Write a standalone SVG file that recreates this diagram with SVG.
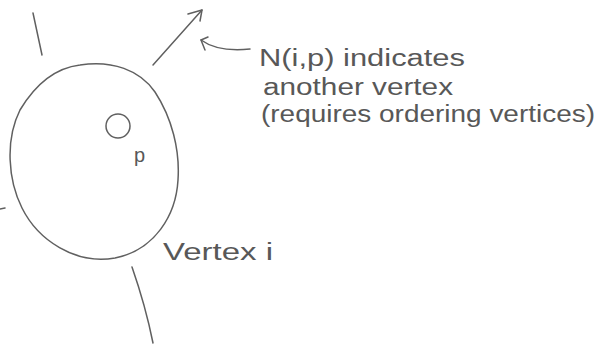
<svg xmlns="http://www.w3.org/2000/svg" width="600" height="345" viewBox="0 0 600 345">
<style>
.s{fill:none;stroke:#606060;stroke-width:1.5;stroke-linecap:round;stroke-linejoin:round}
.t{font-family:"Liberation Sans",Arial,sans-serif;fill:#585858;font-size:23px}
</style>
<rect width="600" height="345" fill="#ffffff"/>
<g id="vertex-i">
<path class="s" d="M80,65 C112,60 140,70 155,92 C172,118 180,150 178,180 C176,215 155,250 115,258 C75,265 38,240 22,208 C8,180 5,140 20,110 C35,85 55,68 80,65 Z"/>
<text class="t" x="163" y="260" textLength="110" lengthAdjust="spacingAndGlyphs">Vertex i</text>
</g>
<g id="port-p">
<circle class="s" cx="118" cy="126" r="12"/>
<text class="t" x="134" y="162" style="font-size:20px">p</text>
</g>
<g id="note">
<text class="t" x="259" y="66" textLength="206" lengthAdjust="spacingAndGlyphs">N(i,p) indicates</text>
<text class="t" x="263" y="95" textLength="190" lengthAdjust="spacingAndGlyphs">another vertex</text>
<text class="t" x="261" y="122" textLength="334" lengthAdjust="spacingAndGlyphs">(requires ordering vertices)</text>
</g>
<g id="connectors">
<path class="s" d="M33,13 L42,55"/>
<path class="s" d="M153,65 L202,10"/>
<path class="s" d="M188,14 L202,10 L200,21"/>
<path class="s" d="M250,49 C230,51 212,48 201,40"/>
<path class="s" d="M208,37 L201,40 L205,50"/>
<path class="s" d="M0,209 L5,208"/>
<path class="s" d="M132,267 C140,290 148,318 153,343"/>
</g>
</svg>
